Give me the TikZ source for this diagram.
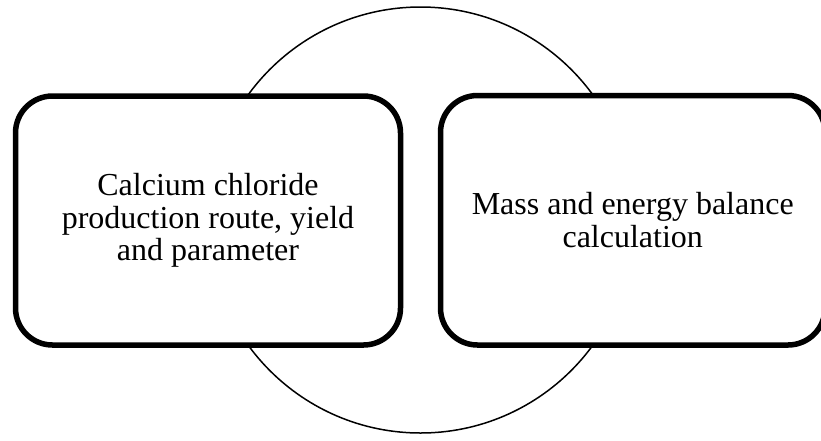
\documentclass[tikz,border=0pt]{standalone}
\usepackage{fontspec}
\setmainfont{Liberation Serif}
\begin{document}
\begin{tikzpicture}[x=1pt,y=-1pt,
  ringstyle/.style={circle, draw=black, line width=1.5pt, inner sep=0pt, minimum size=426pt},
  boxstyle/.style={draw=black, fill=white, line width=5.5pt, rounded corners=37pt,
    inner sep=0pt, align=center, font=\fontsize{32}{32.5}\selectfont}]
\useasboundingbox (0,0) rectangle (821,440);
\clip (0,0) rectangle (821,440);
\node[ringstyle] (ring) at (420.5,220) {};
\node[boxstyle, minimum width=385pt, minimum height=249pt] (left) at (208,220.5)
  {Calcium chloride\\production route, yield\\and parameter};
\node[boxstyle, minimum width=384.5pt, minimum height=249.5pt] (right) at (632.75,220.25)
  {Mass and energy balance\\calculation};
\end{tikzpicture}
\end{document}
